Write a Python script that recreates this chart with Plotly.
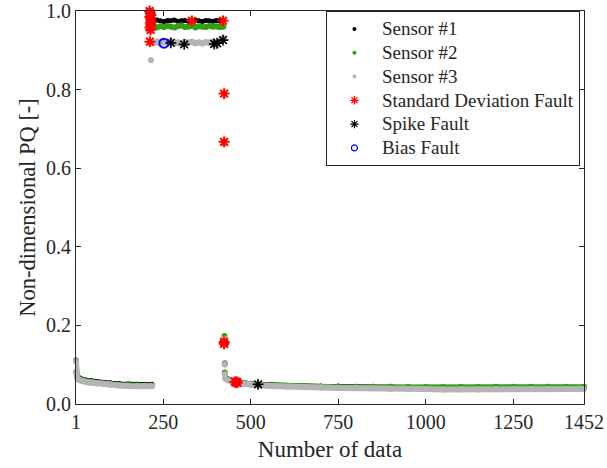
import plotly.graph_objects as go

# ---------------- data ----------------
# Segment A: first low-level part
xa = [1, 2, 4, 7, 12, 20, 30, 45, 60, 80, 100, 125, 150, 175, 200, 218]
s1_a = [0.112, 0.082, 0.072, 0.069, 0.066, 0.063, 0.061, 0.059, 0.057, 0.055, 0.054, 0.052, 0.051, 0.050, 0.050, 0.050]
s2_a = [0.110, 0.080, 0.070, 0.066, 0.063, 0.060, 0.058, 0.056, 0.054, 0.052, 0.051, 0.049, 0.048, 0.047, 0.047, 0.047]
s3_a = [0.108, 0.078, 0.066, 0.063, 0.060, 0.058, 0.056, 0.054, 0.052, 0.050, 0.049, 0.047, 0.046, 0.045, 0.045, 0.045]

# Segment B: high-level part
xb = [212, 222, 232, 242, 252, 262, 272, 282, 292, 302, 312, 322, 332, 342, 352, 362, 372, 382, 392, 402, 412, 422]
s1_b = [0.976, 0.974, 0.977, 0.975, 0.973, 0.976, 0.975, 0.977, 0.974, 0.975, 0.976, 0.974, 0.975, 0.977, 0.975, 0.973, 0.976, 0.975, 0.974, 0.976, 0.975, 0.975]
s2_b = [0.960, 0.962, 0.958, 0.961, 0.959, 0.962, 0.960, 0.958, 0.961, 0.963, 0.959, 0.960, 0.962, 0.958, 0.961, 0.960, 0.959, 0.962, 0.960, 0.961, 0.959, 0.960]
s3_b = [0.920, 0.918, 0.922, 0.917, 0.921, 0.919, 0.923, 0.918, 0.920, 0.916, 0.921, 0.919, 0.922, 0.918, 0.920, 0.917, 0.921, 0.919, 0.922, 0.918, 0.924, 0.932]

# isolated / transitional points
x_iso = [215, 424, 424, 425, 425, 426, 426]
s1_iso = [None, 0.790, 0.667, 0.160, 0.155, 0.100, 0.077]
s2_iso = [None, 0.788, 0.665, 0.173, 0.160, 0.104, 0.080]
s3_iso = [0.875, 0.786, 0.663, 0.166, 0.157, 0.101, 0.076]

# Segment C: second low-level part
xc = [428, 435, 445, 460, 480, 500, 530, 560, 600, 650, 700, 750, 800, 850, 900, 950, 1000, 1050, 1100, 1150, 1200, 1250, 1300, 1350, 1400, 1452]
s1_c = [0.068, 0.064, 0.061, 0.058, 0.055, 0.053, 0.051, 0.050, 0.048, 0.047, 0.046, 0.046, 0.045, 0.045, 0.045, 0.044, 0.043, 0.042, 0.042, 0.041, 0.041, 0.041, 0.041, 0.041, 0.041, 0.041]
s2_c = [0.066, 0.062, 0.059, 0.056, 0.053, 0.051, 0.049, 0.048, 0.046, 0.045, 0.044, 0.044, 0.043, 0.043, 0.043, 0.043, 0.043, 0.043, 0.043, 0.043, 0.044, 0.044, 0.044, 0.044, 0.044, 0.044]
s3_c = [0.064, 0.060, 0.057, 0.054, 0.051, 0.049, 0.047, 0.046, 0.044, 0.043, 0.042, 0.041, 0.041, 0.040, 0.039, 0.038, 0.038, 0.037, 0.037, 0.037, 0.038, 0.038, 0.038, 0.038, 0.038, 0.038]

# faults
sd_x = [211, 213, 215, 212, 214, 216, 213, 215, 212, 214, 212, 332, 421, 424, 424, 424, 424, 455, 458, 460, 462]
sd_y = [1.000, 0.995, 0.990, 0.985, 0.980, 0.975, 0.970, 0.965, 0.958, 0.952, 0.922, 0.975, 0.975, 0.790, 0.667, 0.158, 0.153, 0.056, 0.055, 0.057, 0.054]
spike_x = [272, 310, 396, 404, 421, 521]
spike_y = [0.919, 0.915, 0.916, 0.918, 0.926, 0.050]
bias_x = [252]
bias_y = [0.918]

x_ticks = [1, 250, 500, 750, 1000, 1250, 1452]
y_ticks = [0.0, 0.2, 0.4, 0.6, 0.8, 1.0]

FONT = "Times New Roman, Liberation Serif, serif"
AX = "#262626"
GREEN = "#33a014"
GRAY = "#b4b4b4"


def join(parts):
    xs, ys = [], []
    for i, (px, py) in enumerate(parts):
        if i:
            xs.append(None)
            ys.append(None)
        iso = px is x_iso
        for a, b in zip(px, py):
            if b is None:
                continue
            xs.append(a)
            ys.append(b)
            if iso:
                xs.append(None)
                ys.append(None)
    return xs, ys


fig = go.Figure()

sensors = [
    ("black", (s1_a, s1_b, s1_iso, s1_c), 4, 5),
    (GREEN, (s2_a, s2_b, s2_iso, s2_c), 5, 6),
    (GRAY, (s3_a, s3_b, s3_iso, s3_c), 6, 6),
]
for col, (a, b, iso, c), lw, ms in sensors:
    xs, ys = join([(xa, a), (xb, b), (x_iso, iso), (xc, c)])
    fig.add_trace(go.Scatter(x=xs, y=ys, mode="lines+markers",
                             line=dict(color=col, width=lw),
                             marker=dict(color=col, size=ms),
                             showlegend=False, cliponaxis=False, hoverinfo="skip"))

fig.add_trace(go.Scatter(x=sd_x, y=sd_y, mode="markers", showlegend=False, cliponaxis=False,
                         marker=dict(symbol="asterisk-open", size=9, color="red",
                                     line=dict(color="red", width=2))))
fig.add_trace(go.Scatter(x=spike_x, y=spike_y, mode="markers", showlegend=False, cliponaxis=False,
                         marker=dict(symbol="asterisk-open", size=9, color="black",
                                     line=dict(color="black", width=1.6))))
fig.add_trace(go.Scatter(x=bias_x, y=bias_y, mode="markers", showlegend=False, cliponaxis=False,
                         marker=dict(symbol="circle-open", size=9, color="blue",
                                     line=dict(color="blue", width=2))))

# legend entries
leg = [
    ("Sensor #1", dict(symbol="circle", size=4, color="black")),
    ("Sensor #2", dict(symbol="circle", size=4, color=GREEN)),
    ("Sensor #3", dict(symbol="circle", size=4, color=GRAY)),
    ("Standard Deviation Fault", dict(symbol="asterisk-open", size=7, color="red", line=dict(color="red", width=1.2))),
    ("Spike Fault", dict(symbol="asterisk-open", size=7, color="black", line=dict(color="black", width=1.2))),
    ("Bias Fault", dict(symbol="circle-open", size=6, color="blue", line=dict(color="blue", width=1.2))),
]
for name, mk in leg:
    fig.add_trace(go.Scatter(x=[None], y=[None], mode="markers",
                             name="<span style='font-size:19px'>" + name + "</span>", marker=mk))

axis_common = dict(showline=True, linecolor=AX, linewidth=1, mirror="ticks", ticks="inside",
                   ticklen=5, tickcolor=AX, showgrid=False, zeroline=False, automargin=False,
                   tickfont=dict(family=FONT, size=20, color=AX))

fig.update_layout(
    width=607, height=468,
    margin=dict(l=76, r=23, t=11, b=64),
    paper_bgcolor="white", plot_bgcolor="white",
    font=dict(family=FONT, color=AX),
    xaxis=dict(range=[1, 1452], tickvals=x_ticks, ticktext=[str(v) for v in x_ticks],
               title=dict(text="Number of data", font=dict(family=FONT, size=23, color=AX), standoff=8),
               **axis_common),
    yaxis=dict(range=[0, 1], tickvals=y_ticks, tickformat=".1f",
               title=dict(text="Non-dimensional PQ [-]", font=dict(family=FONT, size=22.5, color=AX), standoff=4),
               **axis_common),
    legend=dict(x=0.492, y=1, xanchor="left", yanchor="top", bgcolor="white",
                bordercolor=AX, borderwidth=1, font=dict(family=FONT, size=16, color=AX),
                itemwidth=45, tracegroupgap=0),
)

fig.write_html("out.html")
